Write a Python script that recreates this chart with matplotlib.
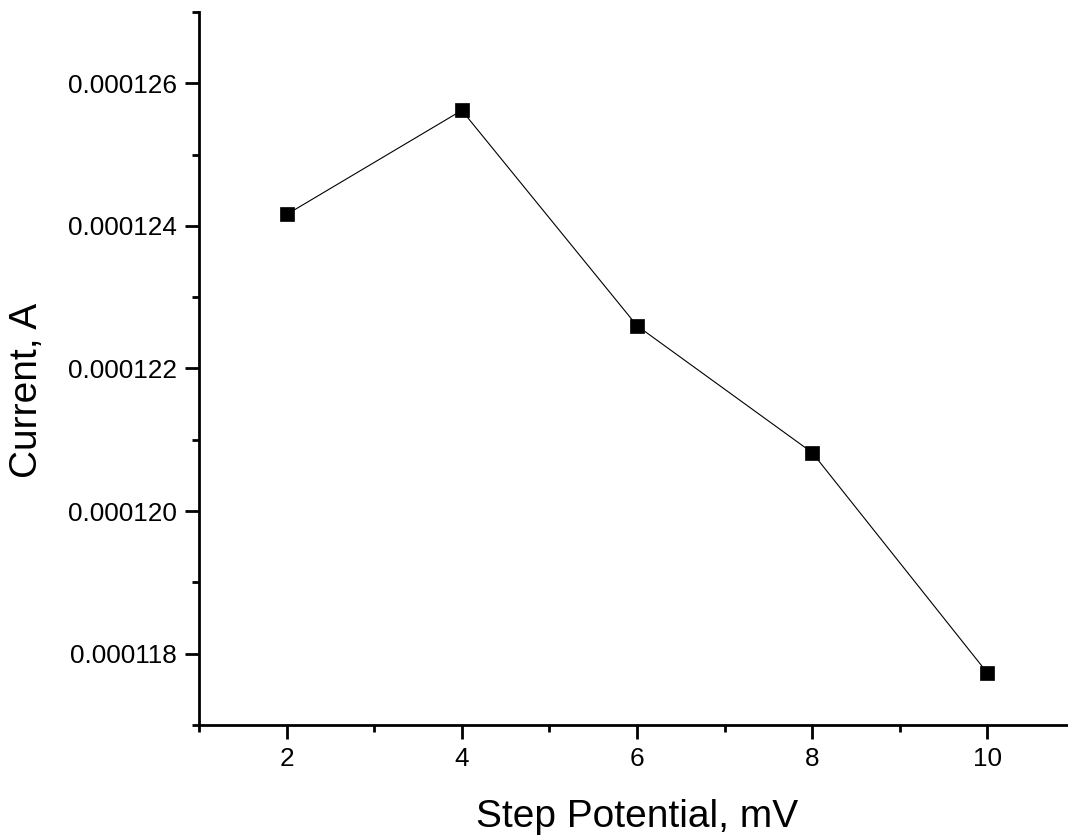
import matplotlib
matplotlib.use("Agg")
import matplotlib.pyplot as plt
from matplotlib.ticker import MultipleLocator, FormatStrFormatter

step_potential = [2, 4, 6, 8, 10]
current = [0.00012416, 0.00012562, 0.00012260, 0.00012082, 0.00011773]
x_label = "Step Potential, mV"
y_label = "Current, A"

plt.rcParams['font.family'] = ['Liberation Sans', 'DejaVu Sans']

W, H = 1068, 836
fig = plt.figure(figsize=(W / 100, H / 100), dpi=100)
left, right, bottom, top = 199, 1075, 725, 12
ax = fig.add_axes([left / W, 1 - bottom / H, (right - left) / W, (bottom - top) / H])

ax.plot(step_potential, current, color='black', linewidth=0.8,
        marker='s', markersize=9.5, markerfacecolor='black', markeredgecolor='black', markeredgewidth=0.5)

ax.set_xlim(1, 11)
ax.set_ylim(0.000117, 0.000127)
ax.xaxis.set_major_locator(MultipleLocator(2))
ax.xaxis.set_minor_locator(MultipleLocator(1))
ax.yaxis.set_major_locator(MultipleLocator(0.000002))
ax.yaxis.set_minor_locator(MultipleLocator(0.000001))
ax.yaxis.set_major_formatter(FormatStrFormatter('%.6f'))
ax.xaxis.set_major_formatter(FormatStrFormatter('%d'))

for s in ['top', 'right']:
    ax.spines[s].set_visible(False)
for s in ['left', 'bottom']:
    ax.spines[s].set_linewidth(2.0)

ax.tick_params(which='major', direction='out', length=10, width=2.0, labelsize=18.8, pad=6)
ax.tick_params(which='minor', direction='out', length=5, width=2.0)

fig.text(637 / W, 1 - 827 / H, x_label, fontsize=28, ha='center', va='baseline')
fig.text(27 / W, 1 - 390 / H, y_label, fontsize=28, ha='center', va='center', rotation=90)

fig.savefig("out.png", dpi=100)
